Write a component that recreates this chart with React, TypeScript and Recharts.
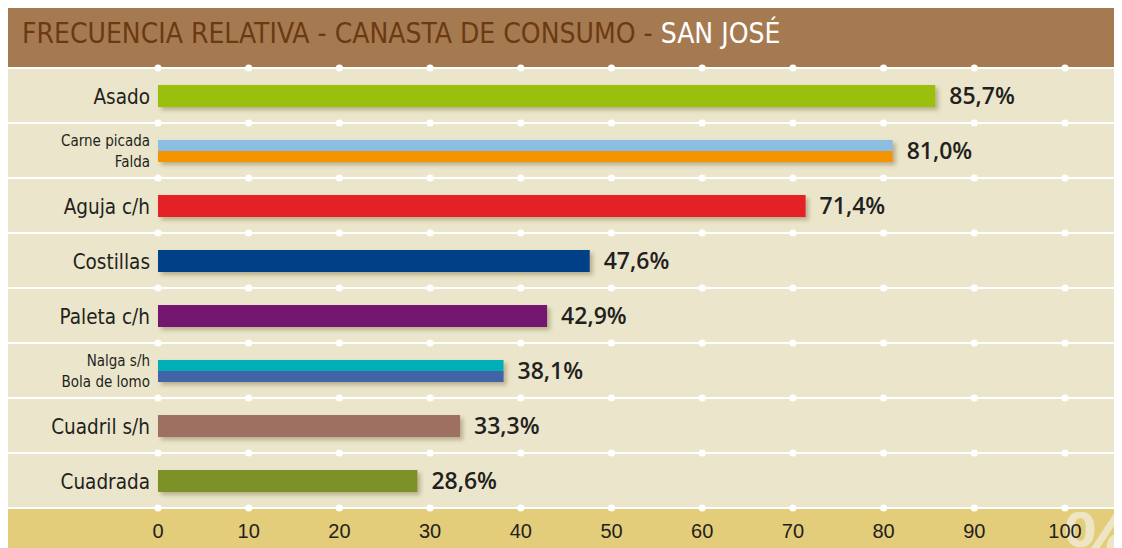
import { BarChart, Bar, XAxis, YAxis, CartesianGrid, LabelList } from 'recharts'

const categories = [
  'Asado',
  'Carne picada\nFalda',
  'Aguja c/h',
  'Costillas',
  'Paleta c/h',
  'Nalga s/h\nBola de lomo',
  'Cuadril s/h',
  'Cuadrada',
]
const values = [85.7, 81.0, 71.4, 47.6, 42.9, 38.1, 33.3, 28.6]
const topColors = ['#9BBF0E', '#8CBEE4', '#E42225', '#003F87', '#72166F', '#00AEB6', '#9E7062', '#7B9225']
const bottomColors = [null, '#F39400', null, null, null, '#4263A6', null, null]
const xTicks = [0, 10, 20, 30, 40, 50, 60, 70, 80, 90, 100]

const W = 1114
const H = 540
const narrow = '"Liberation Sans Narrow", "DejaVu Sans Condensed", sans-serif'

const data = categories.map((name, i) => ({
  name,
  value: values[i],
  color: topColors[i],
  color2: bottomColors[i],
}))

const fmt = (v: any) => Number(v).toFixed(1).replace('.', ',') + '%'

function BarShape(props: any) {
  const { x, y, width, height } = props
  const p = props.payload ?? props
  if (!width || width <= 0) return null
  if (p.color2) {
    const h = height / 2
    return (
      <g filter="url(#barShadow)">
        <rect x={x} y={y} width={width} height={h} fill={p.color} />
        <rect x={x} y={y + h} width={width} height={height - h} fill={p.color2} />
      </g>
    )
  }
  return <rect x={x} y={y} width={width} height={height} fill={p.color} filter="url(#barShadow)" />
}

function CategoryTick(props: any) {
  const { x, y, payload } = props
  const lines = String(payload.value).split('\n')
  if (lines.length === 1) {
    return (
      <text x={x} y={y} dy={8} textAnchor="end" fontSize={20.5} fontFamily={narrow} fill="#231F20">
        {lines[0]}
      </text>
    )
  }
  return (
    <text x={x} textAnchor="end" fontSize={15} fontFamily={narrow} fill="#231F20">
      <tspan x={x} y={y - 4.5}>{lines[0]}</tspan>
      <tspan x={x} y={y + 16.5}>{lines[1]}</tspan>
    </text>
  )
}

function ValueTick(props: any) {
  const { x, y, payload } = props
  return (
    <text x={x} y={y} dy={30} textAnchor="middle" fontSize={20} fontFamily='"Liberation Sans", Arial, sans-serif' fill="#231F20">
      {payload.value}
    </text>
  )
}

function GridRow(props: any) {
  const { x1, x2, y1 } = props
  return (
    <g key={props.key}>
      <line x1={0} x2={W} y1={y1} y2={y1} stroke="#FFFFFF" strokeWidth={2} />
      {xTicks.map((t) => (
        <circle key={t} cx={x1 + (t / 100) * (x2 - x1)} cy={y1} r={3.6} fill="#FFFFFF" />
      ))}
    </g>
  )
}

export default function App() {
  return (
    <div style={{ position: 'relative', width: W, height: H }}>
      <svg width={W} height={H} style={{ position: 'absolute', left: 0, top: 0 }}>
        <defs>
          <clipPath id="bandClip">
            <rect x={0} y={500} width={W} height={40} />
          </clipPath>
        </defs>
        <rect x={0} y={0} width={W} height={H} fill="#EBE6CB" />
        <rect x={0} y={0} width={W} height={60} fill="#A67A51" />
        <rect x={0} y={500} width={W} height={40} fill="#E3CC7A" />
        <text
          x={1056}
          y={560}
          fontSize={82}
          fontWeight={700}
          fontFamily='"Liberation Sans", Arial, sans-serif'
          fill="#EDE5C3"
          clipPath="url(#bandClip)"
        >
          %
        </text>
        <text x={14} y={35} fontSize={28} fontFamily={narrow} fill="#6B3A12">
          FRECUENCIA RELATIVA - CANASTA DE CONSUMO - <tspan fill="#FFFFFF">SAN JOSÉ</tspan>
        </text>
      </svg>
      <BarChart
        width={W}
        height={H}
        data={data}
        layout="vertical"
        margin={{ top: 60, right: 57, bottom: 0, left: 0 }}
        style={{ position: 'absolute', left: 0, top: 0 }}
      >
        <defs>
          <filter id="barShadow" x="-5%" y="-30%" width="115%" height="180%">
            <feDropShadow dx={3} dy={3} stdDeviation={2} floodColor="#5A4A20" floodOpacity={0.35} />
          </filter>
        </defs>
        <CartesianGrid
          vertical={false}
          horizontal={(p: any) => <GridRow {...p} />}
          horizontalCoordinatesGenerator={({ offset }: any) =>
            Array.from({ length: categories.length + 1 }, (_, i) => offset.top + (i * offset.height) / categories.length)
          }
        />
        <XAxis
          type="number"
          domain={[0, 100]}
          ticks={xTicks}
          height={40}
          tickSize={0}
          tickMargin={0}
          tickLine={false}
          axisLine={false}
          tick={<ValueTick />}
          interval={0}
        />
        <YAxis
          type="category"
          dataKey="name"
          width={150}
          tickSize={6}
          tickMargin={2}
          tickLine={false}
          axisLine={false}
          tick={<CategoryTick />}
          interval={0}
        />
        <Bar dataKey="value" barSize={22} shape={<BarShape />} isAnimationActive={false}>
          <LabelList
            dataKey="value"
            position="right"
            offset={14}
            formatter={fmt}
            fill="#231F20"
            fontSize={23}
            fontFamily='"Open Sans", sans-serif'
            fontWeight={600}
          />
        </Bar>
      </BarChart>
    </div>
  )
}
